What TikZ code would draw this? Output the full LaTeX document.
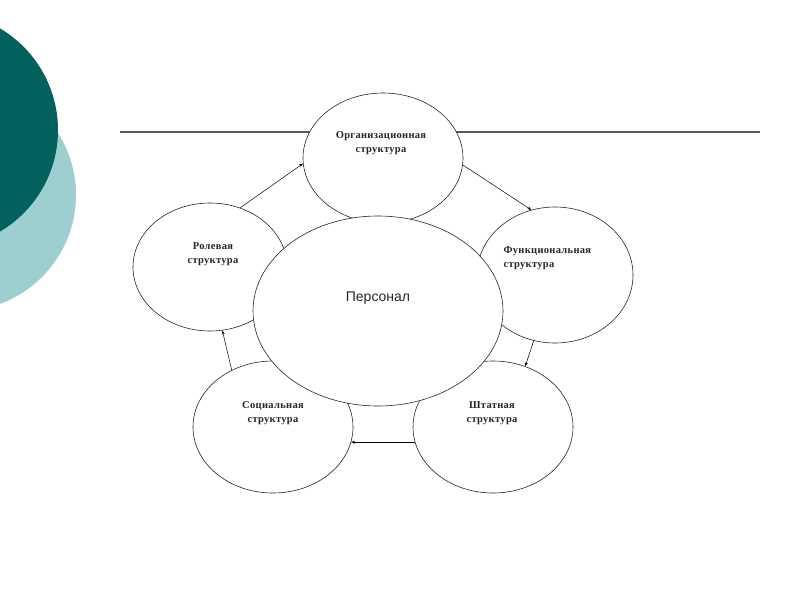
\documentclass[tikz,border=0pt]{standalone}
\usepackage{fontspec}
\setmainfont{Liberation Serif}
\newfontfamily\persfont{Liberation Sans}
\usetikzlibrary{shapes.geometric,arrows.meta,positioning}
\definecolor{tealdark}{HTML}{03625D}
\definecolor{teallight}{HTML}{9DCFD0}

\begin{document}
\begin{tikzpicture}[
  x=1pt, y=-1pt,
  bubble/.style={ellipse, draw=black!85, line width=0.6pt, fill=white, inner sep=0pt},
  caption/.style={font=\bfseries\fontsize{10.5}{14}\selectfont\addfontfeatures{LetterSpace=3}, align=center, text=black!85},
  link/.style={-{Stealth[length=4pt,width=3pt]}, line width=0.5pt}
]
  \useasboundingbox (0,0) rectangle (800,600);

  % ==========================================
  % 1. FONDO (circulos de la diapositiva y linea)
  % ==========================================
  \begin{scope}
    \clip (0,0) rectangle (800,600);
    \fill[teallight] (-40,195) circle (116);
    \fill[tealdark] (-60,130) circle (118);
  \end{scope}
  \draw[black!65, line width=1.2pt] (120,132) -- (760,132);

  % ==========================================
  % 2. ELIPSES (la central encima de todas)
  % ==========================================
  \node[bubble, minimum width=160, minimum height=130] (org) at (383,158) {};
  \node[bubble, minimum width=154, minimum height=128] (rol) at (210,267) {};
  \node[bubble, minimum width=156, minimum height=136] (fun) at (555,275) {};
  \node[bubble, minimum width=160, minimum height=132] (soc) at (273,427) {};
  \node[bubble, minimum width=160, minimum height=132] (sht) at (493,427) {};
  \node[bubble, minimum width=250, minimum height=190] (pers) at (378,311) {};

  % textos
  \node[caption] (orgtext) at (381,143) {Организационная\\структура};
  \node[caption] (roltext) at (213,254) {Ролевая\\структура};
  \node[caption, align=left, anchor=west] (funtext) at (500,258) {Функциональная\\структура};
  \node[caption] (soctext) at (273,413) {Социальная\\структура};
  \node[caption] (shttext) at (492,413) {Штатная\\структура};
  \node[font=\persfont\fontsize{14}{16}\selectfont, text=black!85] (perstext) at (378,298) {Персонал};

  % ==========================================
  % 3. FLECHAS (ciclo entre las estructuras)
  % ==========================================
  \draw[link] (rol.63) -- (org.184);
  \draw[link] (org.355) -- (fun.110);
  \draw[link] (fun.252) -- (sht.62);
  \draw[link] (sht.191) -- (soc.349);
  \draw[link] (soc.126) -- (rol.281);

\end{tikzpicture}
\end{document}
